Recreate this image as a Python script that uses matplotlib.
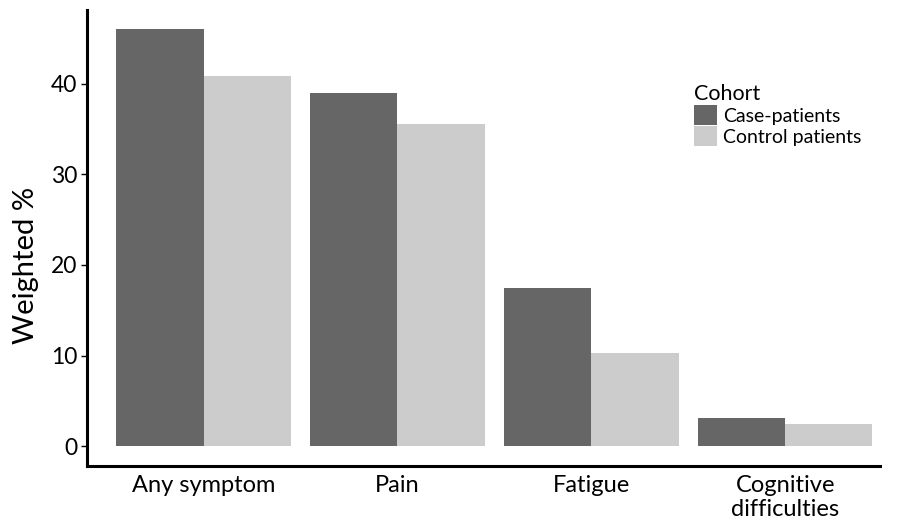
import numpy as np
import matplotlib
matplotlib.use("Agg")
import matplotlib.pyplot as plt

plt.rcParams['font.family'] = ['Lato', 'DejaVu Sans']

categories = ['Any symptom', 'Pain', 'Fatigue', 'Cognitive\ndifficulties']
case_pct = [46.0, 39.0, 17.4, 3.1]
control_pct = [40.8, 35.5, 10.3, 2.5]
cohorts = ['Case-patients', 'Control patients']

fig = plt.figure(figsize=(9, 5.31), dpi=100)
ax = fig.add_axes([0.097, 0.122, 0.881, 0.859])

x = np.arange(len(categories))
w = 0.45
ax.bar(x - w/2, case_pct, w, color='#666666', label=cohorts[0])
ax.bar(x + w/2, control_pct, w, color='#cccccc', label=cohorts[1])

ax.set_xlim(-0.6, 3.49)
ax.set_ylim(-2.2, 48.1)
ax.set_yticks([0, 10, 20, 30, 40])
ax.set_xticks(x)
ax.set_xticklabels(categories, va='top')
ax.tick_params(axis='x', length=0, labelsize=17, pad=6)
ax.tick_params(axis='y', length=4, width=1, labelsize=16.5, pad=3)
for s in ['top', 'right']:
    ax.spines[s].set_visible(False)
for s in ['left', 'bottom']:
    ax.spines[s].set_linewidth(2.2)
ax.set_ylabel('Weighted %', fontsize=21)
ax.yaxis.set_label_coords(-0.061, 0.44)

leg = ax.legend(title='Cohort', loc='upper left', bbox_to_anchor=(0.753, 0.86),
                frameon=False, fontsize=14, title_fontsize=15.5,
                handlelength=1.18, handleheight=1.18, handletextpad=0.3,
                labelspacing=0.08, borderpad=0)
leg._legend_box.align = 'left'

fig.savefig('out.png', dpi=100)
